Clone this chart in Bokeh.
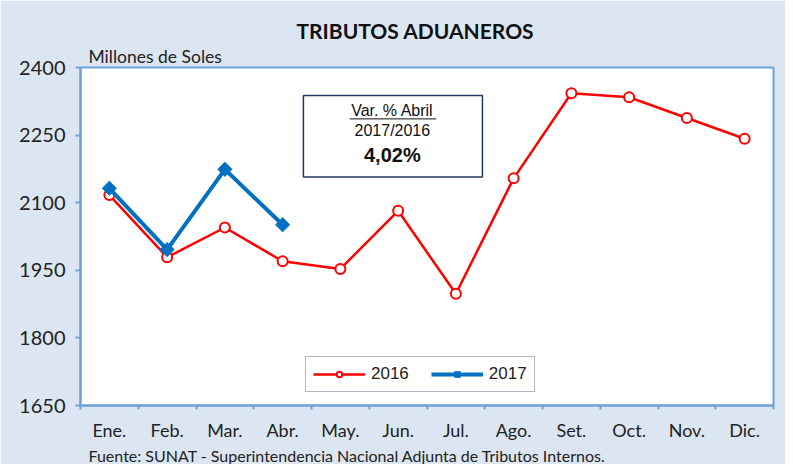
from bokeh.plotting import figure
from bokeh.models import (FixedTicker, Label, Legend, LegendItem, Title,
                          Range1d, ColumnDataSource)
from bokeh.embed import file_html
from bokeh.resources import INLINE

months = ["Ene.", "Feb.", "Mar.", "Abr.", "May.", "Jun.", "Jul.", "Ago.",
          "Set.", "Oct.", "Nov.", "Dic."]
vals_2016 = [2117, 1979, 2045, 1970, 1953, 2082, 1898, 2154, 2343, 2334, 2288, 2242]
vals_2017 = [2132, 1996, 2174, 2051]
y_ticks = [1650, 1800, 1950, 2100, 2250, 2400]

x16 = [i + 0.5 for i in range(len(vals_2016))]
x17 = [i + 0.5 for i in range(len(vals_2017))]

BG = "#dce6f2"
FRAME = "#6f9fd8"
TXT = "#222222"

p = figure(width=785, height=464, output_backend="svg", toolbar_location=None,
           title=None,
           x_range=Range1d(0, 12), y_range=Range1d(1650, 2400),
           min_border_left=80, min_border_right=12, min_border_top=67,
           min_border_bottom=20)
p.border_fill_color = BG
p.background_fill_color = "white"
p.outline_line_color = FRAME
p.outline_line_width = 2
p.grid.visible = False

p.xaxis.ticker = FixedTicker(ticks=x16, minor_ticks=list(range(13)))
p.xaxis.major_label_overrides = {x: m for x, m in zip(x16, months)}
p.xaxis.major_tick_out = 0
p.xaxis.major_tick_in = 0
p.xaxis.minor_tick_out = 4
p.xaxis.minor_tick_in = 0
p.xaxis.minor_tick_line_color = FRAME
p.xaxis.minor_tick_line_width = 2
p.xaxis.axis_line_color = FRAME
p.xaxis.axis_line_width = 2
p.xaxis.major_label_text_font = "Lato"
p.xaxis.major_label_text_font_size = "18px"
p.xaxis.major_label_text_color = TXT
p.xaxis.major_label_standoff = 9

p.yaxis.ticker = FixedTicker(ticks=y_ticks)
p.yaxis.major_tick_out = 5
p.yaxis.major_tick_in = 0
p.yaxis.major_tick_line_color = FRAME
p.yaxis.major_tick_line_width = 2
p.yaxis.minor_tick_line_color = None
p.yaxis.axis_line_color = FRAME
p.yaxis.axis_line_width = 2
p.yaxis.major_label_text_font = "Lato"
p.yaxis.major_label_text_font_size = "20px"
p.yaxis.major_label_text_color = TXT
p.yaxis.major_label_standoff = 10

# text box (drawn first so lines/underline go above it)
p.quad(left=[3.86], right=[6.96], bottom=[2157], top=[2338],
       fill_color="white", line_color="#1f3864", line_width=1.5)
p.segment(x0=[4.66], x1=[6.16], y0=[2286], y1=[2286], line_color="#111111",
          line_width=1)
p.add_layout(Label(x=5.40, y=2303.5, text="Var. % Abril", text_align="center",
                   text_baseline="middle", text_font="Liberation Sans",
                   text_font_size="16px", text_color="#111111"))
p.add_layout(Label(x=5.40, y=2259.6, text="2017/2016", text_align="center",
                   text_baseline="middle", text_font="Liberation Sans",
                   text_font_size="16px", text_color="#111111"))
p.add_layout(Label(x=5.40, y=2204.8, text="4,02%", text_align="center",
                   text_baseline="middle", text_font="Liberation Sans",
                   text_font_size="20px", text_font_style="bold",
                   text_color="#111111"))

s16 = ColumnDataSource(dict(x=x16, y=vals_2016))
s17 = ColumnDataSource(dict(x=x17, y=vals_2017))

l16 = p.line("x", "y", source=s16, line_color="#ff0000", line_width=2.5)
m16 = p.scatter("x", "y", source=s16, marker="circle", size=10,
                fill_color="white", line_color="#ff0000", line_width=2)
l17 = p.line("x", "y", source=s17, line_color="#0070c0", line_width=4)
m17 = p.scatter("x", "y", source=s17, marker="square", size=10, angle=0.785,
                fill_color="#0070c0", line_color="#0070c0", line_width=1)

legend = Legend(items=[LegendItem(label="2016", renderers=[l16, m16]),
                       LegendItem(label="2017", renderers=[l17, m17])],
                orientation="horizontal", location=(225, 13),
                glyph_width=52, glyph_height=14, label_text_font="Liberation Sans",
                label_text_font_size="17px", label_text_color=TXT,
                border_line_color="#5a6e8c", border_line_width=1.5,
                background_fill_color="white", background_fill_alpha=1,
                padding=7, spacing=22, margin=0, label_standoff=6,
                label_height=18)
p.add_layout(legend, "center")

p.add_layout(Title(text="Millones de Soles", align="left", offset=8,
                   text_font="Lato", text_font_size="17.5px",
                   text_font_style="normal", text_color=TXT, standoff=1), "above")
p.add_layout(Title(text="TRIBUTOS ADUANEROS", align="left", offset=216,
                   text_font="Lato", text_font_size="21px",
                   text_font_style="bold", text_color="#111111", standoff=2), "above")
p.add_layout(Title(text="Fuente: SUNAT - Superintendencia  Nacional Adjunta de Tributos  Internos.",
                   align="left", offset=8, text_font="Lato", text_font_size="16px",
                   text_font_style="normal", text_color=TXT, standoff=0), "below")

open("out.html", "w").write(file_html(p, INLINE))
